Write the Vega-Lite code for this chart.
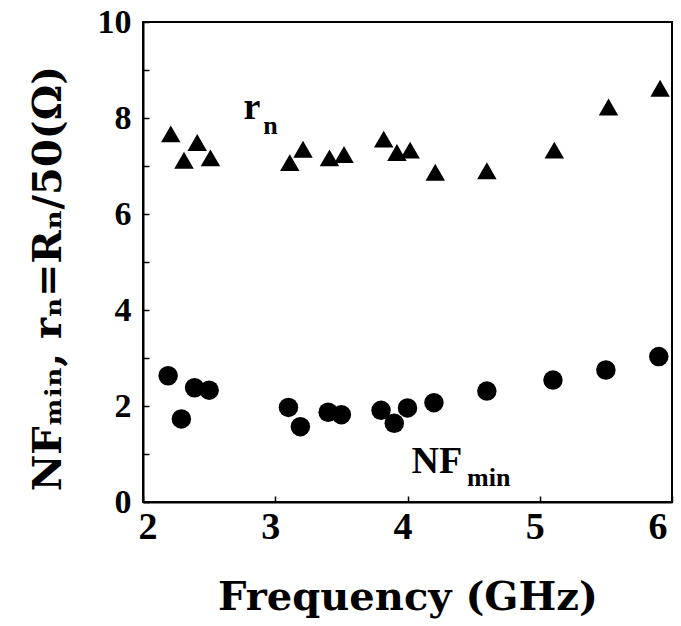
{
  "$schema": "https://vega.github.io/schema/vega-lite/v6.json",
  "width": 529,
  "height": 480,
  "autosize": {"type": "none"},
  "padding": {"left": 143, "top": 22, "right": 9, "bottom": 124},
  "background": "white",
  "config": {
    "view": {"stroke": "black", "strokeWidth": 2},
    "axis": {
      "grid": false,
      "domainColor": "black",
      "domainWidth": 2,
      "tickColor": "black",
      "tickWidth": 1.5,
      "labelFont": "Liberation Serif",
      "labelFontWeight": "bold",
      "labelColor": "black",
      "titleFont": "DejaVu Serif",
      "titleFontWeight": "bold",
      "titleColor": "black"
    }
  },
  "datasets": {
    "points": [
      {"freq": 2.21, "value": 7.67, "series": "rn"},
      {"freq": 2.31, "value": 7.12, "series": "rn"},
      {"freq": 2.41, "value": 7.49, "series": "rn"},
      {"freq": 2.51, "value": 7.17, "series": "rn"},
      {"freq": 3.11, "value": 7.07, "series": "rn"},
      {"freq": 3.21, "value": 7.35, "series": "rn"},
      {"freq": 3.41, "value": 7.17, "series": "rn"},
      {"freq": 3.52, "value": 7.24, "series": "rn"},
      {"freq": 3.82, "value": 7.56, "series": "rn"},
      {"freq": 3.92, "value": 7.28, "series": "rn"},
      {"freq": 4.02, "value": 7.33, "series": "rn"},
      {"freq": 4.21, "value": 6.87, "series": "rn"},
      {"freq": 4.6, "value": 6.9, "series": "rn"},
      {"freq": 5.11, "value": 7.33, "series": "rn"},
      {"freq": 5.52, "value": 8.23, "series": "rn"},
      {"freq": 5.91, "value": 8.62, "series": "rn"},
      {"freq": 2.19, "value": 2.63, "series": "NFmin"},
      {"freq": 2.29, "value": 1.73, "series": "NFmin"},
      {"freq": 2.39, "value": 2.38, "series": "NFmin"},
      {"freq": 2.5, "value": 2.33, "series": "NFmin"},
      {"freq": 3.1, "value": 1.97, "series": "NFmin"},
      {"freq": 3.19, "value": 1.57, "series": "NFmin"},
      {"freq": 3.4, "value": 1.87, "series": "NFmin"},
      {"freq": 3.5, "value": 1.82, "series": "NFmin"},
      {"freq": 3.8, "value": 1.91, "series": "NFmin"},
      {"freq": 3.9, "value": 1.64, "series": "NFmin"},
      {"freq": 4.0, "value": 1.96, "series": "NFmin"},
      {"freq": 4.2, "value": 2.07, "series": "NFmin"},
      {"freq": 4.6, "value": 2.31, "series": "NFmin"},
      {"freq": 5.1, "value": 2.54, "series": "NFmin"},
      {"freq": 5.5, "value": 2.75, "series": "NFmin"},
      {"freq": 5.9, "value": 3.03, "series": "NFmin"}
    ],
    "mainLabels": [
      {"freq": 2.76, "value": 7.97, "text": "r"},
      {"freq": 4.03, "value": 0.6, "text": "NF"}
    ],
    "subLabels": [
      {"freq": 2.91, "value": 7.66, "text": "n"},
      {"freq": 4.45, "value": 0.33, "text": "min"}
    ]
  },
  "layer": [
    {
      "data": {"name": "points"},
      "mark": {"type": "point", "filled": true, "opacity": 1, "size": 380, "color": "black"},
      "encoding": {
        "x": {
          "field": "freq", "type": "quantitative",
          "scale": {"domain": [2, 6], "nice": false, "zero": false},
          "axis": {
            "values": [2, 2.5, 3, 3.5, 4, 4.5, 5, 5.5, 6],
            "format": "d",
            "labelExpr": "datum.value % 1 === 0 ? datum.label : ''",
            "tickSize": -6,
            "labelPadding": 12,
            "labelOffset": -5,
            "labelFontSize": 38,
            "title": "Frequency (GHz)",
            "titleFontSize": 40,
            "titlePadding": 31
          }
        },
        "y": {
          "field": "value", "type": "quantitative",
          "scale": {"domain": [0, 10], "nice": false},
          "axis": {
            "values": [0, 0.5, 1, 1.5, 2, 2.5, 3, 3.5, 4, 4.5, 5, 5.5, 6, 6.5, 7, 7.5, 8, 8.5, 9, 9.5, 10],
            "format": "d",
            "labelExpr": "datum.value % 2 === 0 ? datum.label : ''",
            "tickSize": -6,
            "labelPadding": 18,
            "labelFontSize": 34,
            "title": "NFₘᵢₙ, rₙ=Rₙ/50(Ω)",
            "titleFontSize": 40,
            "titlePadding": 29,
            "titleY": 256
          }
        },
        "shape": {
          "field": "series", "type": "nominal",
          "scale": {"domain": ["rn", "NFmin"], "range": ["triangle-up", "circle"]},
          "legend": null
        }
      }
    },
    {
      "data": {"name": "mainLabels"},
      "mark": {"type": "text", "font": "Liberation Serif", "fontWeight": "bold", "fontSize": 38, "align": "left", "baseline": "alphabetic", "color": "black"},
      "encoding": {
        "x": {"field": "freq", "type": "quantitative"},
        "y": {"field": "value", "type": "quantitative"},
        "text": {"field": "text"}
      }
    },
    {
      "data": {"name": "subLabels"},
      "mark": {"type": "text", "font": "Liberation Serif", "fontWeight": "bold", "fontSize": 26, "align": "left", "baseline": "alphabetic", "color": "black"},
      "encoding": {
        "x": {"field": "freq", "type": "quantitative"},
        "y": {"field": "value", "type": "quantitative"},
        "text": {"field": "text"}
      }
    }
  ]
}
